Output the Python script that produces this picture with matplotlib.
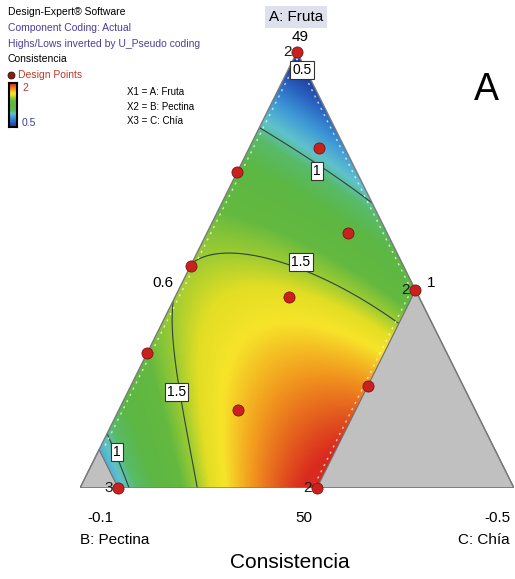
import numpy as np
import matplotlib.pyplot as plt
from matplotlib.colors import LinearSegmentedColormap
from matplotlib.patches import Polygon

# Scheffe full cubic model for Consistencia
# terms: A, B, C, AB, AC, BC, ABC, AB(A-B), AC(A-C), BC(B-C)
model_coef = [0.391, 0.564, 1.795, 4.108, 0.500, 3.207, -1.750, -0.104, 0.136, -0.322]

# component constraints (real fractions)
B_MAX = 0.912
C_MAX = 0.546

# design points
design_a = [1.0, 0.78, 0.725, 0.585, 0.51, 0.44, 0.454, 0.31, 0.234, 0.18, 0.0, 0.0]
design_b = [0.0, 0.06, 0.275, 0.09, 0.49, 0.30, 0.0, 0.69, 0.22, 0.545, 0.912, 0.454]
design_c = [0.0, 0.16, 0.0, 0.325, 0.0, 0.265, 0.546, 0.0, 0.546, 0.275, 0.088, 0.546]

contour_levels = [0.5, 1.0, 1.5]


def basis(a, b, c):
    return np.stack([a, b, c, a * b, a * c, b * c, a * b * c,
                     a * b * (a - b), a * c * (a - c), b * c * (b - c)], axis=-1)


def to_xy(a, b, c):
    a, b, c = np.asarray(a, float), np.asarray(b, float), np.asarray(c, float)
    s = a + b + c
    return (c + 0.5 * a) / s, a / s


W, H = 515, 579
fig = plt.figure(figsize=(W / 100, H / 100), dpi=100)
plt.rcParams['font.family'] = ['Liberation Sans', 'DejaVu Sans']


def fx(x):
    return x / W


def fy(y):
    return 1 - y / H


ax = fig.add_axes([80 / W, (H - 488) / H, 434 / W, 436 / H])
ax.set_xlim(0, 1)
ax.set_ylim(0, 1)
ax.axis('off')

# blue -> cyan -> green -> yellow -> red over 0.5 .. 2
cmap = LinearSegmentedColormap.from_list('de', [
    (0.0, '#1c3c9c'), (0.1, '#2a62c0'), (0.2, '#3c95d6'), (0.3, '#60c2cc'),
    (0.367, '#58bb6a'), (0.467, '#5cb744'), (0.6, '#64b940'), (0.667, '#9ccb32'),
    (0.72, '#e2de24'), (0.78, '#f7e42a'), (0.867, '#f29a1e'), (1.0, '#d92a1e')])

gx, gy = np.meshgrid(np.linspace(0, 1, 500), np.linspace(0, 1, 500))
A = gy
C = gx - 0.5 * gy
B = 1 - A - C
Z = basis(A, B, C) @ np.array(model_coef)

region = [to_xy(1, 0, 0), to_xy(1 - C_MAX, 0, C_MAX), to_xy(0, 1 - C_MAX, C_MAX),
          to_xy(0, B_MAX, 1 - B_MAX), to_xy(1 - B_MAX, B_MAX, 0)]
clip = Polygon(region, closed=True, fc='none', ec='none')
ax.add_patch(clip)

im = ax.imshow(Z, extent=(0, 1, 0, 1), origin='lower', cmap=cmap, vmin=0.5, vmax=2,
               interpolation='bilinear', aspect='auto')
im.set_clip_path(clip)

cs = ax.contour(gx, gy, Z, levels=contour_levels, colors='#2d4438', linewidths=0.8)
cs.set_clip_path(clip)

# white grid steps just inside the slanted edges
step = 4 / 434
edges = [([region[0], region[4]], step), ([region[0], region[1]], -step),
         ([region[1], region[2]], -step)]
for (p, q), off in edges:
    line, = ax.plot([p[0] + off, q[0] + off], [p[1], q[1]], color='white', lw=1.0,
                    ls=(0, (1.5, 3.5)), alpha=0.75, zorder=3)
    line.set_clip_path(clip)

gray_kw = dict(closed=True, fc='#c0c0c0', ec='#6e6e6e', lw=0.8, zorder=4)
ax.add_patch(Polygon([to_xy(0, 1, 0), to_xy(0, B_MAX, 1 - B_MAX),
                      to_xy(1 - B_MAX, B_MAX, 0)], **gray_kw))
ax.add_patch(Polygon([to_xy(0, 0, 1), to_xy(1 - C_MAX, 0, C_MAX),
                      to_xy(0, 1 - C_MAX, C_MAX)], **gray_kw))
ax.add_patch(Polygon([to_xy(1, 0, 0), to_xy(0, 1, 0), to_xy(0, 0, 1)], closed=True,
                     fc='none', ec='#7a7a7a', lw=1.0, zorder=4))

dx, dy = to_xy(design_a, design_b, design_c)
ax.plot(dx, dy, 'o', ms=8, mfc='#c9211d', mec='#7d1512', mew=0.6, clip_on=False, zorder=6)

# contour labels
box = dict(boxstyle='square,pad=0.15', fc='white', ec='#333333', lw=0.8)
for (a, b, c), s in [((0.959, 0.009, 0.032), '0.5'), ((0.727, 0.09, 0.183), '1'),
                     ((0.518, 0.232, 0.25), '1.5'), ((0.22, 0.667, 0.113), '1.5'),
                     ((0.083, 0.873, 0.044), '1')]:
    x, y = to_xy(a, b, c)
    ax.text(x, y, s, fontsize=10, ha='center', va='center', bbox=box, zorder=5)

# replicate counts
for (a, b, c), s in [((1, 0, 0), '2'), ((1 - C_MAX, 0, C_MAX), '2'),
                     ((0, B_MAX, 1 - B_MAX), '3'), ((0, 1 - C_MAX, C_MAX), '2')]:
    x, y = to_xy(a, b, c)
    ax.text(x - 0.022, y, s, fontsize=11, ha='center', va='center', color='#1a1a1a', zorder=7)

# header block
fig.text(fx(8), fy(12), 'Design-Expert® Software', fontsize=7.5, va='center')
fig.text(fx(8), fy(28), 'Component Coding: Actual', fontsize=7.5, va='center', color='#4a3f96')
fig.text(fx(8), fy(44), 'Highs/Lows inverted by U_Pseudo coding', fontsize=7.5, va='center',
         color='#4a3f96')
fig.text(fx(8), fy(59), 'Consistencia', fontsize=7.5, va='center')
ax.plot([fx(11)], [fy(75)], 'o', ms=5, mfc='#8a1a14', mec='#3a0a08', mew=0.6,
        transform=fig.transFigure, clip_on=False)
fig.text(fx(18), fy(75), 'Design Points', fontsize=7.5, va='center', color='#c0392b')

cax = fig.add_axes([fx(9), fy(127), 8 / W, 44 / H])
cax.imshow(np.linspace(2, 0.5, 50)[:, None], aspect='auto', cmap=cmap, vmin=0.5, vmax=2)
cax.set_xticks([])
cax.set_yticks([])
for sp in cax.spines.values():
    sp.set_linewidth(1.5)
fig.text(fx(22), fy(88), '2', fontsize=7.5, va='center', color='#c0392b')
fig.text(fx(22), fy(123), '0.5', fontsize=7.5, va='center', color='#3a3f96')

for i, s in enumerate(['X1 = A: Fruta', 'X2 = B: Pectina', 'X3 = C: Chía']):
    fig.text(fx(127), fy(92 + 14.5 * i), s, fontsize=7, va='center')

fig.text(fx(296), fy(17), 'A: Fruta', fontsize=11, ha='center', va='center',
         bbox=dict(boxstyle='square,pad=0.25', fc='#dfe0ee', ec='none'))
fig.text(fx(300), fy(37), '49', fontsize=11, ha='center', va='center')
fig.text(fx(486), fy(90), 'A', fontsize=27, ha='center', va='center')
fig.text(fx(163), fy(283), '0.6', fontsize=11, ha='center', va='center')
fig.text(fx(431), fy(283), '1', fontsize=11, ha='center', va='center')
fig.text(fx(100), fy(518), '-0.1', fontsize=11, ha='center', va='center')
fig.text(fx(304), fy(518), '50', fontsize=11, ha='center', va='center')
fig.text(fx(497), fy(518), '-0.5', fontsize=11, ha='center', va='center')
fig.text(fx(80), fy(540), 'B: Pectina', fontsize=11, ha='left', va='center')
fig.text(fx(510), fy(540), 'C: Chía', fontsize=11, ha='right', va='center')
fig.text(fx(290), fy(563), 'Consistencia', fontsize=15, ha='center', va='center')

fig.savefig('out.png', dpi=100)
